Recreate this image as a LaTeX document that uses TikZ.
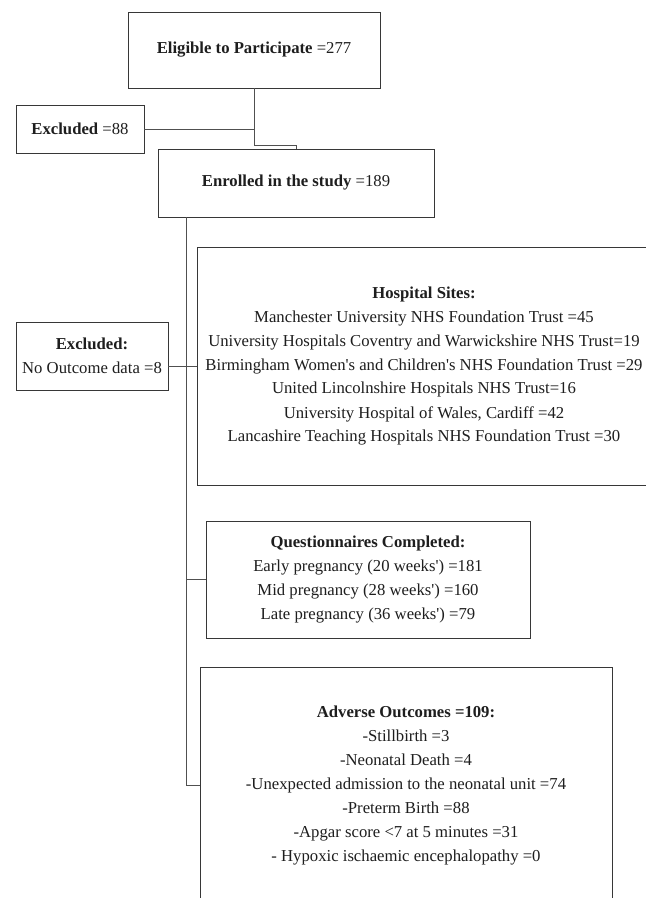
\documentclass[tikz,border=0pt]{standalone}
\usepackage{fontspec}
\setmainfont{Liberation Serif}
\begin{document}
\begin{tikzpicture}[x=1pt,y=-1pt,
  box/.style={draw=boxc, line width=0.9pt, rectangle, inner sep=0pt, align=center, text=txtc,
              font=\fontsize{16.7}{24}\selectfont},
  conn/.style={draw=linec, line width=0.8pt}]
\definecolor{boxc}{RGB}{55,55,55}
\definecolor{linec}{RGB}{80,80,80}
\definecolor{txtc}{RGB}{30,30,30}
\clip (0,0) rectangle (646,898);
\fill[white] (0,0) rectangle (646,898);

\node[box, minimum width=252pt, minimum height=76pt] (elig) at (254,50) {\textbf{Eligible to Participate} =277};
\node[box, minimum width=128pt, minimum height=48pt] (ex1) at (80,129) {\textbf{Excluded} =88};
\node[box, minimum width=276pt, minimum height=68pt] (enr) at (296,183) {\textbf{Enrolled in the study} =189};
\node[box, minimum width=152pt, minimum height=68pt] (ex2) at (92,356) {\textbf{Excluded:}\\No Outcome data =8};
\node[box, minimum width=454pt, minimum height=238pt] (hosp) at (424,366) {\textbf{Hospital Sites:}\\
Manchester University NHS Foundation Trust =45\\
University Hospitals Coventry and Warwickshire NHS Trust=19\\
Birmingham Women\textquotesingle s and Children\textquotesingle s NHS Foundation Trust =29\\
United Lincolnshire Hospitals NHS Trust=16\\
University Hospital of Wales, Cardiff =42\\
Lancashire Teaching Hospitals NHS Foundation Trust =30};
\node[box, minimum width=324pt, minimum height=117pt] (quest) at (368,579.5) {\textbf{Questionnaires Completed:}\\
Early pregnancy (20 weeks\textquotesingle) =181\\
Mid pregnancy (28 weeks\textquotesingle) =160\\
Late pregnancy (36 weeks\textquotesingle) =79};
\node[box, minimum width=412pt, minimum height=236pt] (adv) at (406,785) {\textbf{Adverse Outcomes =109:}\\
-Stillbirth =3\\
-Neonatal Death =4\\
-Unexpected admission to the neonatal unit =74\\
-Preterm Birth =88\\
-Apgar score <7 at 5 minutes =31\\
- Hypoxic ischaemic encephalopathy =0};

\coordinate (bend) at (254,145);
\coordinate (trunk) at (186,217);
\draw[conn] (elig.south) -- (bend) -- (bend -| enr.north) -- (enr.north);
\draw[conn] (ex1.east) -- (ex1.east -| elig.south);
\draw[conn] (trunk) |- (adv.west);
\draw[conn] (ex2.east |- hosp.west) -- (hosp.west);
\draw[conn] (trunk |- quest.west) -- (quest.west);
\end{tikzpicture}
\end{document}
